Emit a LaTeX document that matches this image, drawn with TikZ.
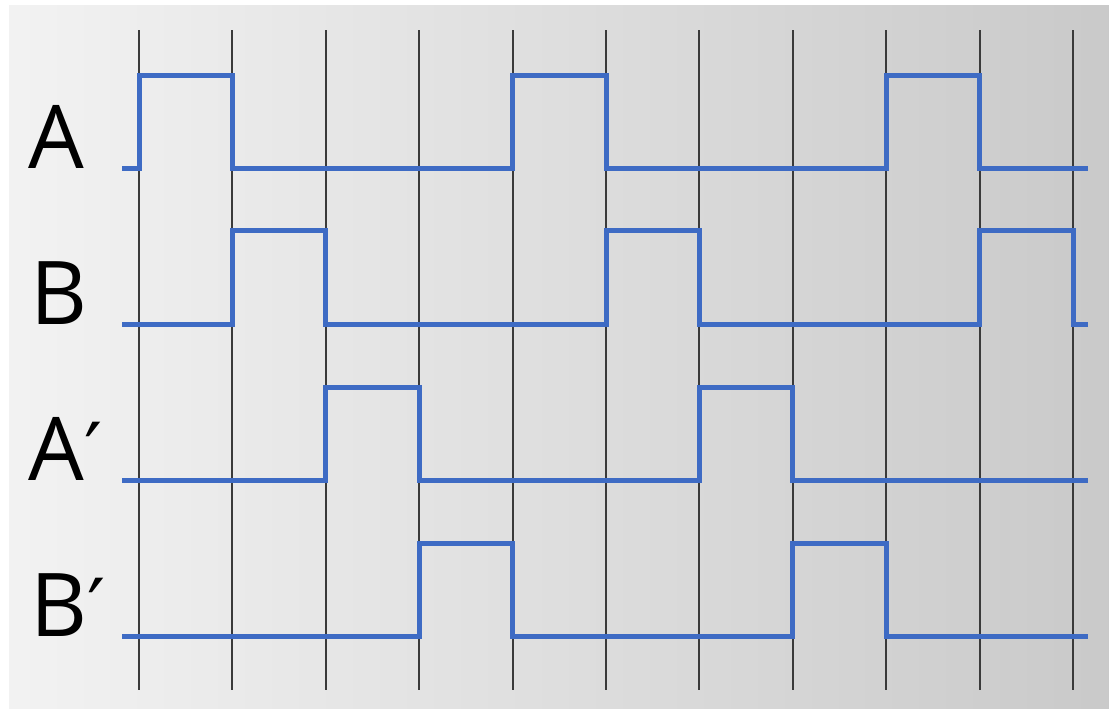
\documentclass[tikz,border=0pt]{standalone}
\usepackage{fontspec}
\setmainfont{Open Sans}
\newfontfamily\primefont{DejaVu Sans}
\usepackage{xcolor}
\definecolor{sigblue}{HTML}{3E6BC4}
\definecolor{gridgray}{HTML}{3A3A3A}
\tikzset{
  signal/.style  = {line width=2.5pt, sigblue, line join=miter},
  tick/.style    = {line width=1pt, gridgray},
  siglab/.style  = {anchor=base west, inner sep=0pt, font=\fontsize{44}{44}\selectfont},
}
\newcommand{\prm}{{\primefont\fontsize{40}{40}\selectfont ′}}
\begin{document}
\begin{tikzpicture}[x=0.5pt, y=-0.5pt]
  \useasboundingbox (0,0) rectangle (1109,708);
  \fill[white] (0,0) rectangle (1109,708);
  \shade[left color=black!5, right color=black!21] (9,5) rectangle (1109,708);
  % clock lines
  \foreach \i in {0,...,10}
    \draw[tick] ({139+93.4*\i},30) -- ({139+93.4*\i},690);
  % labels
  \node[siglab] (lblA)  at (28,168) {A};
  \node[siglab] (lblB)  at (30,324) {B};
  \node[siglab] (lblAp) at (28,480) {A\prm};
  \node[siglab] (lblBp) at (30,636) {B\prm};
  % waveforms
  \draw[signal] (122,168) -- (139,168) -- (139,75) -- (232.4,75) -- (232.4,168)
    -- (512.6,168) -- (512.6,75) -- (606,75) -- (606,168) -- (886.2,168)
    -- (886.2,75) -- (979.6,75) -- (979.6,168) -- (1088,168);
  \draw[signal] (122,324) -- (232.4,324) -- (232.4,230) -- (325.8,230) -- (325.8,324)
    -- (606,324) -- (606,230) -- (699.4,230) -- (699.4,324) -- (979.6,324)
    -- (979.6,230) -- (1073,230) -- (1073,324) -- (1088,324);
  \draw[signal] (122,480) -- (325.8,480) -- (325.8,387) -- (419.2,387) -- (419.2,480)
    -- (699.4,480) -- (699.4,387) -- (792.8,387) -- (792.8,480) -- (1088,480);
  \draw[signal] (122,636) -- (419.2,636) -- (419.2,543) -- (512.6,543) -- (512.6,636)
    -- (792.8,636) -- (792.8,543) -- (886.2,543) -- (886.2,636) -- (1088,636);
\end{tikzpicture}
\end{document}
